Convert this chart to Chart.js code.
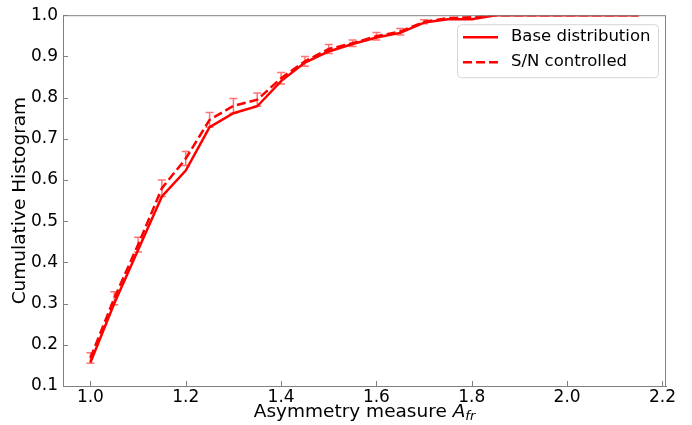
<!DOCTYPE html>
<html>
<head>
<meta charset="utf-8">
<script src="https://cdn.jsdelivr.net/npm/chart.js@4/dist/chart.umd.min.js"></script>
<style>
  body { margin: 0; background: #fff; }
  #wrap { width: 692px; height: 425px; }
</style>
</head>
<body>
<div id="wrap"><canvas id="myChart" width="692" height="425"></canvas></div>
<script>
// asymmetry bins
let asymmetry = [1.0, 1.05, 1.1, 1.15, 1.2, 1.25, 1.3, 1.35, 1.4, 1.45, 1.5, 1.55,
  1.6, 1.65, 1.7, 1.75, 1.8, 1.85, 1.9, 1.95, 2.0, 2.05, 2.1, 2.15];

let baseValues = [0.157, 0.30, 0.43, 0.56, 0.623, 0.728, 0.762, 0.779, 0.84, 0.885, 0.912, 0.93,
  0.946, 0.957, 0.982, 0.99, 0.99, 1.0, 1.0, 1.0, 1.0, 1.0, 1.0, 1.0];

let snValues = [0.168, 0.313, 0.443, 0.58, 0.652, 0.746, 0.78, 0.795, 0.847, 0.888, 0.918, 0.932,
  0.949, 0.96, 0.984, 0.993, 0.995, 1.0, 1.0, 1.0, 1.0, 1.0, 1.0, 1.0];

let snErrors = [0.013, 0.016, 0.018, 0.02, 0.017, 0.018, 0.018, 0.016, 0.014, 0.012, 0.011, 0.008,
  0.009, 0.008, 0.005, 0, 0, 0, 0, 0, 0, 0, 0, 0];

let xTicks = [1.0, 1.2, 1.4, 1.6, 1.8, 2.0, 2.2];
let yTicks = [0.1, 0.2, 0.3, 0.4, 0.5, 0.6, 0.7, 0.8, 0.9, 1.0];

const FONT = "'DejaVu Sans', sans-serif";
const FRAME = "#808080";

function toPoints(xs, ys) {
  let pts = [];
  for (let i = 0; i < xs.length; i++) {
    pts.push({ x: xs[i], y: ys[i] });
  }
  return pts;
}

// error bars for the S/N series
const errorBars = {
  id: "errorBars",
  afterDatasetsDraw(chart) {
    const ctx = chart.ctx;
    const yScale = chart.scales.y;
    chart.data.datasets.forEach((ds, i) => {
      if (!ds.errors) return;
      const meta = chart.getDatasetMeta(i);
      ctx.save();
      ctx.strokeStyle = "rgba(255,0,0,0.55)";
      ctx.lineWidth = 1.5;
      meta.data.forEach((pt, j) => {
        const err = ds.errors[j];
        if (!err) return;
        const v = ds.data[j].y;
        const top = yScale.getPixelForValue(v + err);
        const bot = yScale.getPixelForValue(v - err);
        ctx.beginPath();
        ctx.moveTo(pt.x, top);
        ctx.lineTo(pt.x, bot);
        ctx.moveTo(pt.x - 4, top);
        ctx.lineTo(pt.x + 4, top);
        ctx.moveTo(pt.x - 4, bot);
        ctx.lineTo(pt.x + 4, bot);
        ctx.stroke();
      });
      ctx.restore();
    });
  },
};

// frame, inward ticks, axis titles and legend
const decorations = {
  id: "decorations",
  afterDraw(chart) {
    const ctx = chart.ctx;
    const area = chart.chartArea;
    const xScale = chart.scales.x;
    const yScale = chart.scales.y;
    ctx.save();

    ctx.strokeStyle = FRAME;
    ctx.lineWidth = 1;
    ctx.strokeRect(area.left + 0.5, area.top + 0.5, area.right - area.left - 1, area.bottom - area.top);

    ctx.beginPath();
    xTicks.forEach((t) => {
      const px = Math.round(xScale.getPixelForValue(t)) + 0.5;
      ctx.moveTo(px, area.bottom);
      ctx.lineTo(px, area.bottom - 5);
    });
    yTicks.forEach((t) => {
      const py = Math.round(yScale.getPixelForValue(t)) + 0.5;
      ctx.moveTo(area.left, py);
      ctx.lineTo(area.left + 5, py);
    });
    ctx.stroke();

    // x title with italic A and subscript fr
    ctx.fillStyle = "#000";
    ctx.textBaseline = "alphabetic";
    const main = "Asymmetry measure ";
    ctx.font = "18.5px " + FONT;
    const w1 = ctx.measureText(main).width;
    ctx.font = "italic 18.5px " + FONT;
    const w2 = ctx.measureText("A").width;
    ctx.font = "italic 13px " + FONT;
    const w3 = ctx.measureText("fr").width;
    const cx = (area.left + area.right) / 2;
    let sx = cx - (w1 + w2 + w3) / 2;
    const by = 417;
    ctx.textAlign = "left";
    ctx.font = "18.5px " + FONT;
    ctx.fillText(main, sx, by);
    ctx.font = "italic 18.5px " + FONT;
    ctx.fillText("A", sx + w1, by);
    ctx.font = "italic 13px " + FONT;
    ctx.fillText("fr", sx + w1 + w2, by + 3);

    // y title
    ctx.save();
    ctx.translate(20, (area.top + area.bottom) / 2);
    ctx.rotate(-Math.PI / 2);
    ctx.font = "18.5px " + FONT;
    ctx.textAlign = "center";
    ctx.textBaseline = "middle";
    ctx.fillText("Cumulative Histogram", 0, 0);
    ctx.restore();

    // legend
    const lx = area.right - 209;
    const ly = area.top + 9;
    ctx.beginPath();
    ctx.roundRect(lx + 0.5, ly + 0.5, 201, 53, 4);
    ctx.fillStyle = "rgba(255,255,255,0.8)";
    ctx.fill();
    ctx.strokeStyle = "#d6d6d6";
    ctx.stroke();
    chart.data.datasets.forEach((ds, i) => {
      const rowY = ly + 13 + i * 25;
      ctx.strokeStyle = ds.borderColor;
      ctx.lineWidth = ds.borderWidth;
      ctx.setLineDash(ds.borderDash || []);
      ctx.beginPath();
      ctx.moveTo(lx + 6, rowY);
      ctx.lineTo(lx + 41, rowY);
      ctx.stroke();
      ctx.setLineDash([]);
      ctx.fillStyle = "#000";
      ctx.font = "16.5px " + FONT;
      ctx.textAlign = "left";
      ctx.textBaseline = "middle";
      ctx.fillText(ds.label, lx + 54, rowY);
    });

    ctx.restore();
  },
};

const ctx = document.getElementById("myChart");

new Chart(ctx, {
  type: "line",
  data: {
    datasets: [
      {
        label: "Base distribution",
        data: toPoints(asymmetry, baseValues),
        borderColor: "#ff0000",
        borderWidth: 2.5,
        pointRadius: 0,
        tension: 0,
        fill: false,
      },
      {
        label: "S/N controlled",
        data: toPoints(asymmetry, snValues),
        errors: snErrors,
        borderColor: "#ff0000",
        borderWidth: 2.5,
        borderDash: [9, 4],
        pointRadius: 0,
        tension: 0,
        fill: false,
      },
    ],
  },
  options: {
    responsive: false,
    animation: false,
    devicePixelRatio: 1,
    layout: {
      padding: { top: 15, right: 26, left: 0, bottom: 0 },
    },
    scales: {
      x: {
        type: "linear",
        min: 0.9425,
        max: 2.2075,
        afterBuildTicks: (scale) => {
          scale.ticks = xTicks.map((v) => ({ value: v }));
        },
        afterFit: (scale) => {
          scale.height = 39;
        },
        grid: { display: false, drawTicks: false },
        border: { display: true, color: FRAME },
        ticks: {
          color: "#000",
          padding: 1,
          maxRotation: 0,
          autoSkip: false,
          font: { family: FONT, size: 17 },
          callback: (v) => Number(v).toFixed(1),
        },
      },
      y: {
        type: "linear",
        min: 0.1,
        max: 1.0,
        afterBuildTicks: (scale) => {
          scale.ticks = yTicks.map((v) => ({ value: v }));
        },
        afterFit: (scale) => {
          scale.width = 63;
        },
        grid: { display: false, drawTicks: false },
        border: { display: true, color: FRAME },
        ticks: {
          color: "#000",
          padding: 5,
          autoSkip: false,
          font: { family: FONT, size: 17 },
          callback: (v) => Number(v).toFixed(1),
        },
      },
    },
    plugins: {
      legend: { display: false },
      tooltip: { enabled: false },
    },
  },
  plugins: [errorBars, decorations],
});
</script>
</body>
</html>
